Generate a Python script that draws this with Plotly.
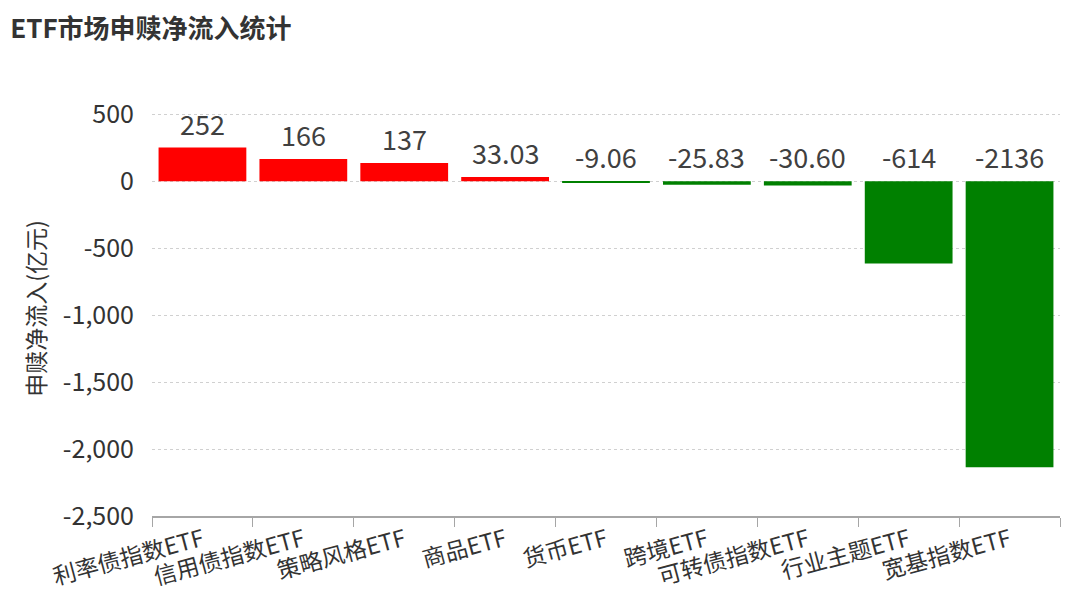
import plotly.graph_objects as go

categories = ['利率债指数ETF', '信用债指数ETF', '策略风格ETF', '商品ETF', '货币ETF',
              '跨境ETF', '可转债指数ETF', '行业主题ETF', '宽基指数ETF']
values = [252, 166, 137, 33.03, -9.06, -25.83, -30.60, -614, -2136]
value_labels = ['252', '166', '137', '33.03', '-9.06', '-25.83', '-30.60', '-614', '-2136']
y_ticks = [500, 0, -500, -1000, -1500, -2000, -2500]
y_tick_labels = ['500', '0', '-500', '-1,000', '-1,500', '-2,000', '-2,500']

FONT = 'Noto Sans CJK SC, Microsoft YaHei, sans-serif'


def main():
    colors = ['#FF0000' if v >= 0 else '#008000' for v in values]
    fig = go.Figure(
        go.Bar(
            x=categories,
            y=values,
            marker=dict(color=colors, line=dict(width=0)),
            hoverinfo='x+y',
        )
    )
    # value labels sit above the zero line for negative bars too
    for cat, v, lab in zip(categories, values, value_labels):
        fig.add_annotation(
            x=cat, y=max(v, 0), text=lab, showarrow=False,
            yanchor='bottom', yshift=3,
            font=dict(family=FONT, size=27, color='#404040'),
        )
    # page body has an 8px margin, so margins are shifted by that
    fig.update_layout(
        width=1080, height=596,
        margin=dict(l=144, r=28, t=93, b=84),
        paper_bgcolor='white', plot_bgcolor='white',
        bargap=0.13,
        showlegend=False,
        title=dict(text='<b>ETF市场申赎净流入统计</b>', x=0.002, xanchor='left',
                   y=0.965, yanchor='middle',
                   font=dict(family=FONT, size=26, color='#333333')),
        font=dict(family=FONT, color='#333333'),
    )
    fig.update_xaxes(
        type='category', tickson='boundaries', ticks='outside', ticklen=9,
        tickcolor='#A6A6A6', showline=True, linecolor='#A6A6A6', linewidth=2,
        tickangle=-15, tickfont=dict(family=FONT, size=23, color='#333333'),
        showgrid=False,
    )
    fig.update_yaxes(
        range=[-2500, 600], tickvals=y_ticks, ticktext=y_tick_labels,
        tickfont=dict(family=FONT, size=25, color='#333333'),
        ticklabelstandoff=17,
        showgrid=True, gridcolor='#D0D0D0', griddash='dot', gridwidth=1,
        zeroline=False, showline=False, ticks='',
        title=dict(text='申赎净流入(亿元)', font=dict(family=FONT, size=23, color='#333333'),
                   standoff=10),
    )
    fig.write_html('out.html')


if __name__ == '__main__':
    main()
